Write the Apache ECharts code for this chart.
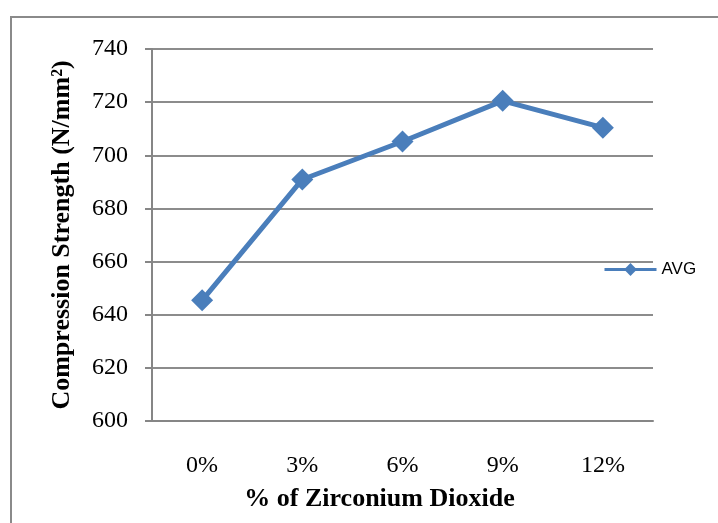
<!DOCTYPE html>
<html>
<head>
<meta charset="utf-8">
<script src="https://cdn.jsdelivr.net/npm/echarts@6/dist/echarts.min.js"></script>
<style>html,body{margin:0;padding:0;background:#fff;}#c{width:718px;height:523px;}</style>
</head>
<body>
<div id="c"></div>
<script>
const categories = ['0%', '3%', '6%', '9%', '12%'];
const avgValues = [645.4, 690.9, 705.2, 720.5, 710.4];
const yTicks = { min: 600, max: 740, interval: 20 };

const chart = echarts.init(document.getElementById('c'));
const serif = "'Liberation Serif', 'Times New Roman', serif";
chart.setOption({
  animation: false,
  backgroundColor: '#fff',
  graphic: [{
    type: 'rect',
    shape: { x: 11, y: 17, width: 720, height: 520 },
    style: { fill: 'none', stroke: '#8a8a8a', lineWidth: 2 }
  }],
  grid: { left: 152, right: 65, top: 49, bottom: 102 },
  legend: {
    left: 598, top: 256,
    itemWidth: 52, itemHeight: 16, itemGap: 4,
    lineStyle: { width: 3 },
    textStyle: { fontFamily: "'Liberation Sans', sans-serif", fontSize: 17, color: '#000' },
    data: ['AVG']
  },
  xAxis: {
    type: 'category',
    data: categories,
    boundaryGap: true,
    axisLine: { lineStyle: { color: '#868686', width: 2 } },
    axisTick: { show: false },
    axisLabel: { color: '#000', fontFamily: serif, fontSize: 24, margin: 33 },
    name: '% of Zirconium Dioxide',
    nameLocation: 'middle',
    nameGap: 65,
    nameTextStyle: { color: '#000', fontFamily: serif, fontSize: 26, fontWeight: 'bold', padding: [0, 46, 0, 0] }
  },
  yAxis: {
    type: 'value',
    min: yTicks.min, max: yTicks.max, interval: yTicks.interval,
    axisLine: { show: true, lineStyle: { color: '#868686', width: 2 } },
    axisTick: { show: true, inside: false, length: 7, lineStyle: { color: '#868686', width: 2 } },
    axisLabel: { color: '#000', fontFamily: serif, fontSize: 24, margin: 24 },
    splitLine: { lineStyle: { color: '#8c8c8c', width: 2 } },
    name: 'Compression Strength (N/mm²)',
    nameLocation: 'middle',
    nameGap: 77,
    nameTextStyle: { color: '#000', fontFamily: serif, fontSize: 26, fontWeight: 'bold' }
  },
  series: [{
    name: 'AVG',
    type: 'line',
    data: avgValues,
    symbol: 'diamond',
    symbolSize: 22,
    lineStyle: { color: '#4a7ebb', width: 5 },
    itemStyle: { color: '#4a7ebb' }
  }]
});
</script>
</body>
</html>
